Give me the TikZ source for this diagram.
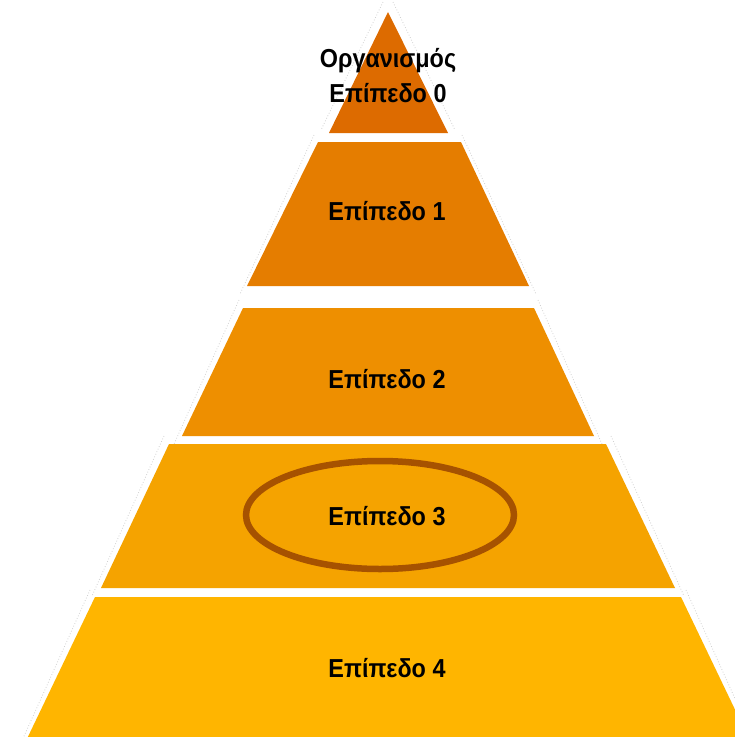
\documentclass[tikz,border=0pt]{standalone}
\usepackage{fontspec}
\setmainfont{Liberation Sans}
\newfontfamily\lblfont{Liberation Sans}[FakeStretch=0.9]
\definecolor{c0}{HTML}{DD6B00}
\definecolor{c1}{HTML}{E57D00}
\definecolor{c2}{HTML}{EE8F00}
\definecolor{c3}{HTML}{F5A300}
\definecolor{c4}{HTML}{FFB500}
\definecolor{ring}{HTML}{A65200}
\tikzset{
  layer/.style={draw=none},
  halo/.style={draw=black!18, dotted, line width=0.8pt},
  lbl/.style={font=\lblfont\bfseries\fontsize{26}{35}\selectfont, text=black, inner sep=0pt, anchor=base, align=center}
}
\begin{document}
\begin{tikzpicture}[x=1pt,y=-1pt]
\useasboundingbox (0,0) rectangle (735,737);
\clip (0,0) rectangle (735,737);
\fill[white] (0,0) rectangle (735,737);
% faint halo outlines
\draw[halo] (383,2) -- (321,130);
\draw[halo] (393,2) -- (455,130);
\draw[halo] (314,135) -- (240,294);
\draw[halo] (462,135) -- (536,294);
\draw[halo] (239,300) -- (174,444);
\draw[halo] (538,300) -- (602,444);
\draw[halo] (164,436) -- (92,596);
\draw[halo] (611,436) -- (684,596);
\draw[halo] (90,590) -- (20,745);
\draw[halo] (686,590) -- (756,745);
% layers
\fill[layer, c0] (388,12) -- (448,133) -- (329,133) -- cycle;
\fill[layer, c1] (318,142) -- (461,142) -- (529,286) -- (247,286) -- cycle;
\fill[layer, c2] (243,308) -- (534,308) -- (594,436) -- (182,436) -- cycle;
\fill[layer, c3] (169,444) -- (606,444) -- (675,588) -- (101,588) -- cycle;
\fill[layer, c4] (95,597) -- (681,597) -- (752,745) -- (24,745) -- cycle;
% ring
\draw[ring, line width=6.5pt] (380,515) ellipse [x radius=134, y radius=54];
% labels
\node[lbl] (t0) at (388,102) {Οργανισμός\\Επίπεδο 0};
\node[lbl] (t1) at (387,220) {Επίπεδο 1};
\node[lbl] (t2) at (387,388) {Επίπεδο 2};
\node[lbl] (t3) at (387,525) {Επίπεδο 3};
\node[lbl] (t4) at (387,677) {Επίπεδο 4};
\end{tikzpicture}
\end{document}
